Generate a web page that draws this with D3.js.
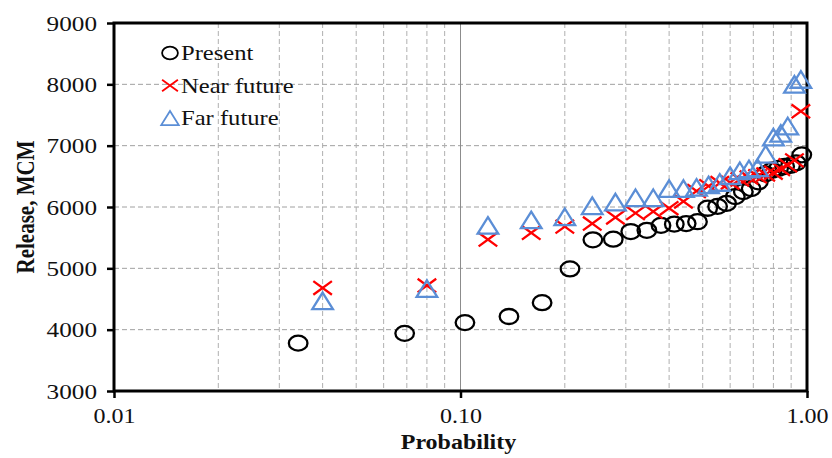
<!DOCTYPE html>
<html>
<head>
<meta charset="utf-8">
<script src="https://cdn.jsdelivr.net/npm/d3@7"></script>
<style>
  html, body { margin: 0; padding: 0; background: #fff; }
  svg { display: block; }
  text { font-family: "Liberation Serif", "Times New Roman", serif; fill: #111; }
</style>
</head>
<body>
<svg id="chart" width="832" height="458"></svg>
<script>
// Exceedance probabilities (plotting positions) and annual release, MCM
const presentProb = [0.034, 0.069, 0.103, 0.138, 0.172, 0.207, 0.241, 0.276, 0.310, 0.345,
  0.379, 0.414, 0.448, 0.483, 0.517, 0.552, 0.586, 0.621, 0.655, 0.690,
  0.724, 0.759, 0.793, 0.828, 0.862, 0.897, 0.931, 0.966];
const presentRelease = [3780, 3940, 4115, 4215, 4440, 4990, 5465, 5475, 5600, 5620,
  5700, 5720, 5730, 5760, 5980, 6010, 6060, 6170, 6250, 6300,
  6410, 6540, 6600, 6630, 6660, 6680, 6720, 6850];

const futureProb = [0.04, 0.08, 0.12, 0.16, 0.20, 0.24, 0.28, 0.32, 0.36, 0.40,
  0.44, 0.48, 0.52, 0.56, 0.60, 0.64, 0.68, 0.72, 0.76, 0.80,
  0.84, 0.88, 0.92, 0.96];
const nearRelease = [4680, 4720, 5470, 5580, 5680, 5730, 5830, 5900, 5925, 5980,
  6090, 6260, 6340, 6390, 6400, 6450, 6480, 6500, 6530, 6560,
  6620, 6680, 6760, 7560];
const farRelease = [4470, 4670, 5700, 5790, 5840, 6020, 6080, 6150, 6150, 6300,
  6300, 6320, 6360, 6400, 6510, 6590, 6620, 6640, 6860, 7140,
  7200, 7320, 8000, 8080];

const xTicks = [0.01, 0.1, 1];
const yTicks = [3000, 4000, 5000, 6000, 7000, 8000, 9000];
const xMinor = [0.02, 0.03, 0.04, 0.05, 0.06, 0.07, 0.08, 0.09,
  0.2, 0.3, 0.4, 0.5, 0.6, 0.7, 0.8, 0.9];
const seriesNames = ["Present", "Near future", "Far future"];
const seriesColors = ["#000000", "#ff0000", "#5b8ed6"];

const svg = d3.select("#chart");
const margin = { left: 114, right: 25, top: 23, bottom: 67 };
const W = 832, H = 458;
const x = d3.scaleLog().domain([0.01, 1]).range([margin.left, W - margin.right]);
const y = d3.scaleLinear().domain([3000, 9000]).range([H - margin.bottom, margin.top]);
const SX = 1.2; // horizontal text stretch

// grid
const grid = svg.append("g");
grid.selectAll("line.h").data(yTicks.slice(1, -1)).join("line")
  .attr("x1", x(0.01)).attr("x2", x(1))
  .attr("y1", d => y(d)).attr("y2", d => y(d))
  .attr("stroke", "#a0a0a0").attr("stroke-width", 1).attr("stroke-dasharray", "5,3");
grid.selectAll("line.v").data(xMinor).join("line")
  .attr("x1", d => x(d)).attr("x2", d => x(d))
  .attr("y1", y(9000)).attr("y2", y(3000))
  .attr("stroke", "#b0b0b0").attr("stroke-width", 1).attr("stroke-dasharray", "5,3");
grid.append("line")
  .attr("x1", x(0.1)).attr("x2", x(0.1))
  .attr("y1", y(9000)).attr("y2", y(3000))
  .attr("stroke", "#8c8c8c").attr("stroke-width", 1);

// axes
const yAxis = svg.append("g").attr("transform", `translate(${x(0.01)},0)`)
  .call(d3.axisLeft(y).tickValues(yTicks).tickSize(7).tickFormat(d3.format("d")));
yAxis.select(".domain").remove();
yAxis.selectAll(".tick line").attr("stroke", "#000").attr("stroke-width", 2.5);
yAxis.selectAll(".tick text")
  .attr("x", 0).attr("dy", "0.34em")
  .attr("transform", `translate(-17,0) scale(${SX},1)`)
  .style("font-size", "21px").style("font-family", "Liberation Serif, serif").attr("fill", "#111");

const xAxis = svg.append("g").attr("transform", `translate(0,${y(3000)})`)
  .call(d3.axisBottom(x).tickValues(xTicks).tickSize(7).tickFormat(d3.format(".2f")));
xAxis.select(".domain").remove();
xAxis.selectAll(".tick line").attr("stroke", "#000").attr("stroke-width", 2.5);
xAxis.selectAll(".tick text")
  .attr("y", 0).attr("dy", 0)
  .attr("transform", `translate(0,32) scale(${SX},1)`)
  .style("font-size", "20px").style("font-family", "Liberation Serif, serif").attr("fill", "#111");

// frame
svg.append("rect")
  .attr("x", x(0.01)).attr("y", y(9000))
  .attr("width", x(1) - x(0.01)).attr("height", y(3000) - y(9000))
  .attr("fill", "none").attr("stroke", "#000").attr("stroke-width", 3);

// axis titles
svg.append("text")
  .attr("transform", `translate(${(x(0.01) + x(1)) / 2 - 2},449) scale(${SX},1)`)
  .attr("text-anchor", "middle").style("font-size", "20px").style("font-weight", "bold")
  .text("Probability");
svg.append("text")
  .attr("transform", `translate(34,${(y(3000) + y(9000)) / 2}) rotate(-90) scale(1,${SX})`)
  .attr("text-anchor", "middle").style("font-size", "21px").style("font-weight", "bold")
  .text("Release, MCM");

// marker shapes
const circlePath = s => `M${9.3 * s},0 A${9.3 * s},${7.5 * s} 0 1,1 ${-9.3 * s},0 A${9.3 * s},${7.5 * s} 0 1,1 ${9.3 * s},0 Z`;
const crossPath = s => `M${-9.3 * s},${-6.8 * s} L${9.3 * s},${6.8 * s} M${-9.3 * s},${6.8 * s} L${9.3 * s},${-6.8 * s}`;
const triPath = s => `M0,${-8.3 * s} L${10.3 * s},${8.3 * s} L${-10.3 * s},${8.3 * s} Z`;
const shapes = [circlePath, crossPath, triPath];

const series = [
  { prob: presentProb, val: presentRelease },
  { prob: futureProb, val: nearRelease },
  { prob: futureProb, val: farRelease }
];

const plot = svg.append("g");
series.forEach((s, i) => {
  const pts = s.prob.map((p, k) => ({ p, v: s.val[k] }));
  plot.append("g").selectAll("path").data(pts).join("path")
    .attr("transform", d => `translate(${x(d.p)},${y(d.v)})`)
    .attr("d", shapes[i](1))
    .attr("fill", "none").attr("stroke", seriesColors[i]).attr("stroke-width", 2.3);
});

// legend
const legend = svg.append("g");
seriesNames.forEach((name, i) => {
  const ly = 53 + i * 32.5;
  legend.append("path")
    .attr("transform", `translate(170,${ly})`)
    .attr("d", shapes[i](0.85))
    .attr("fill", "none").attr("stroke", seriesColors[i]).attr("stroke-width", 1.8);
  legend.append("text")
    .attr("transform", `translate(181,${ly + 7}) scale(${SX},1)`)
    .style("font-size", "20.5px").text(name);
});
</script>
</body>
</html>
